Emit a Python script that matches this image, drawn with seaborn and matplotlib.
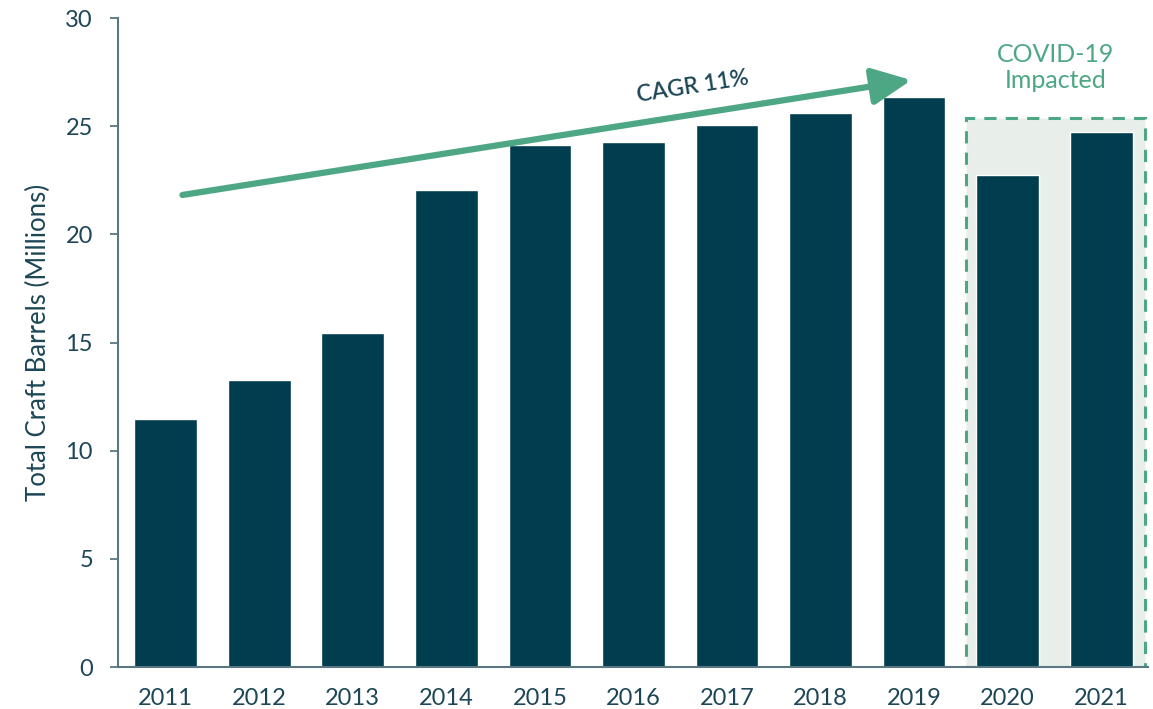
import matplotlib
matplotlib.use("Agg")
import matplotlib.pyplot as plt
import seaborn as sns
import pandas as pd
from matplotlib.patches import Rectangle, FancyArrowPatch

years = ["2011", "2012", "2013", "2014", "2015", "2016", "2017", "2018", "2019", "2020", "2021"]
barrels = [11.45, 13.25, 15.45, 22.05, 24.15, 24.25, 25.05, 25.6, 26.35, 22.75, 24.75]
y_ticks = [0, 5, 10, 15, 20, 25, 30]

bar_color = "#003d4f"
green = "#4ea784"
box_fill = "#e8efeb"
text_color = "#1d4656"
spine_color = "#5b7782"

sns.set_theme(style="white")
plt.rcParams['font.family'] = ['Lato', 'DejaVu Sans']

df = pd.DataFrame({"year": years, "barrels": barrels})

fig = plt.figure(figsize=(11.53, 7.09), dpi=100)
ax = fig.add_axes([0.1023, 0.0592, 0.8934, 0.9154])

# COVID box behind bars
ax.add_patch(Rectangle((8.55, 0), 1.92, 25.4, facecolor=box_fill, edgecolor=green,
                       linestyle=(0, (4, 3)), linewidth=2.2, zorder=0))

sns.barplot(data=df, x="year", y="barrels", color=bar_color, width=0.67,
            saturation=1, ax=ax, zorder=2)

ax.set_xlim(-0.51, 10.5)
ax.set_ylim(0, 30)
ax.set_yticks(y_ticks)
ax.set_yticklabels([str(t) for t in y_ticks])
ax.set_xlabel("")
ax.set_ylabel("Total Craft Barrels (Millions)", fontsize=18.5, color=text_color, labelpad=10)

for s in ["top", "right"]:
    ax.spines[s].set_visible(False)
for s in ["left", "bottom"]:
    ax.spines[s].set_color(spine_color)
    ax.spines[s].set_linewidth(1.5)

ax.tick_params(axis="y", which="both", left=True, length=6, width=1.3, color=spine_color,
               labelsize=17, labelcolor=text_color, pad=12)
ax.tick_params(axis="x", bottom=False, labelsize=17, labelcolor=text_color, pad=9)

# CAGR arrow
arrow = FancyArrowPatch((0.15, 21.8), (8.0, 27.15), arrowstyle="-|>,head_length=1.7,head_width=0.8",
                        mutation_scale=14, color=green, linewidth=4.5, zorder=3)
ax.add_patch(arrow)
ax.text(5.63, 26.8, "CAGR 11%", rotation=9, fontsize=16.5, color=text_color,
        ha="center", va="center", fontweight="semibold")

ax.text(9.51, 27.7, "COVID-19\nImpacted", fontsize=18, color=green, ha="center",
        va="center", linespacing=1.15)

fig.savefig("out.png", dpi=100)
